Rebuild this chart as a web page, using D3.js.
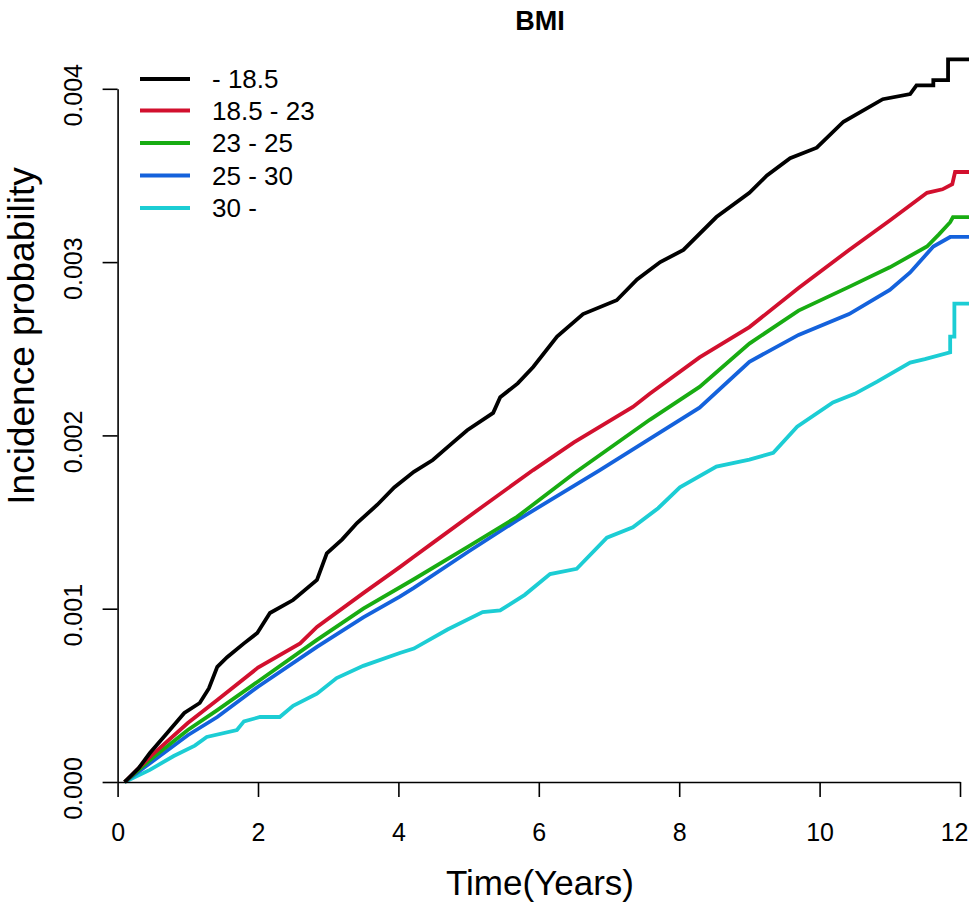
<!DOCTYPE html>
<html>
<head>
<meta charset="utf-8">
<script src="https://cdn.jsdelivr.net/npm/d3@7"></script>
<style>
  html, body { margin: 0; padding: 0; background: #fff; }
  svg { display: block; font-family: "Liberation Sans", Arial, sans-serif; }
</style>
</head>
<body>
<svg id="chart" width="969" height="905"></svg>
<script>
// ---- data ----
const seriesNames = ["- 18.5", "18.5 - 23", "23 - 25", "25 - 30", "30 -"];
const seriesColors = ["#000000", "#d2102e", "#18ac12", "#1462dc", "#1ccdd4"];
const xTicks = [0, 2, 4, 6, 8, 10, 12];
const yTicks = [0, 0.001, 0.002, 0.003, 0.004];
const yTickLabels = ["0.000", "0.001", "0.002", "0.003", "0.004"];

const bmiUnder185 = [
  [0.1,0],[0.3,0.00008],[0.46,0.000167],[0.7,0.00028],[0.95,0.000398],[1.17,0.000456],
  [1.3,0.00054],[1.42,0.000664],[1.56,0.00072],[1.8,0.0008],[1.99,0.00086],[2.17,0.000975],
  [2.5,0.00105],[2.84,0.001166],[2.98,0.00132],[3.2,0.0014],[3.41,0.001494],[3.7,0.0016],
  [3.94,0.0017],[4.22,0.00179],[4.49,0.001858],[4.75,0.00195],[4.98,0.00203],[5.35,0.00213],
  [5.45,0.00222],[5.7,0.0023],[5.92,0.002395],[6.26,0.00257],[6.63,0.0027],[7.11,0.00278],
  [7.4,0.0029],[7.73,0.003],[8.06,0.00307],[8.53,0.00326],[9.0,0.0034],[9.25,0.0035],
  [9.58,0.0036],[9.96,0.00366],[10.34,0.00381],[10.9,0.00394],[11.29,0.00397],[11.38,0.00402],
  [11.62,0.00402],[11.62,0.00405],[11.83,0.00405],[11.83,0.00417],[12.13,0.00417]
];
const bmi185to23 = [
  [0.1,0],[0.5,0.00016],[1.0,0.00034],[1.42,0.000473],[2.0,0.00066],[2.6,0.0008],
  [2.84,0.000895],[3.5,0.00109],[4.02,0.00124],[4.22,0.0013],[4.49,0.00138],[5.2,0.00159],
  [5.92,0.0018],[6.5,0.00196],[7.34,0.002164],[7.58,0.00224],[8.29,0.00245],[9.0,0.002625],
  [9.7,0.00285],[10.42,0.00307],[11.0,0.00324],[11.53,0.0034],[11.75,0.00342],[11.89,0.00345],
  [11.93,0.00352],[12.13,0.00352]
];
const bmi23to25 = [
  [0.1,0],[0.5,0.00014],[1.0,0.0003],[1.42,0.000415],[2.0,0.00058],[2.84,0.00082],
  [3.5,0.001],[4.22,0.00117],[5.0,0.00136],[5.69,0.00153],[6.5,0.00178],[7.58,0.00209],
  [8.29,0.00228],[9.0,0.00253],[9.7,0.00272],[10.42,0.002857],[11.0,0.00297],[11.53,0.00309],
  [11.7,0.00316],[11.86,0.00323],[11.9,0.00326],[12.13,0.00326]
];
const bmi25to30 = [
  [0.1,0],[0.5,0.00012],[1.0,0.00027],[1.42,0.000375],[2.0,0.00055],[2.84,0.00078],
  [3.5,0.00095],[4.02,0.00107],[4.22,0.00112],[5.0,0.00133],[5.69,0.00151],[6.87,0.0018],
  [7.58,0.00198],[8.29,0.00216],[9.0,0.002425],[9.7,0.00258],[10.42,0.0027],[11.0,0.00284],
  [11.29,0.00294],[11.62,0.00309],[11.86,0.003145],[12.13,0.003145]
];
const bmiOver30 = [
  [0.1,0],[0.46,0.00007],[0.8,0.00015],[1.1,0.00021],[1.27,0.00026],[1.7,0.0003],
  [1.8,0.00035],[2.03,0.000375],[2.31,0.000375],[2.5,0.00044],[2.84,0.00051],[3.12,0.0006],
  [3.5,0.00067],[4.02,0.000744],[4.22,0.00077],[4.7,0.00088],[5.2,0.00098],[5.45,0.00099],
  [5.8,0.00108],[6.16,0.0012],[6.54,0.00123],[6.97,0.00141],[7.34,0.00147],[7.7,0.00158],
  [8.01,0.0017],[8.53,0.00182],[9.0,0.00186],[9.34,0.0019],[9.68,0.00205],[10.19,0.00219],
  [10.5,0.00224],[10.82,0.00231],[11.29,0.00242],[11.5,0.00244],[11.86,0.00248],
  [11.86,0.00257],[11.92,0.00257],[11.92,0.00276],[12.13,0.00276]
];
const allSeries = [bmiUnder185, bmi185to23, bmi23to25, bmi25to30, bmiOver30];

// ---- layout ----
const svg = d3.select("#chart");
const x = d3.scaleLinear().domain([0, 12]).range([117.6, 960]);
const y = d3.scaleLinear().domain([0, 0.004]).range([782, 88.8]);

// title
svg.append("text")
  .attr("x", 540).attr("y", 30)
  .attr("text-anchor", "middle")
  .attr("font-size", 27).attr("font-weight", "bold")
  .text("BMI");

// lines
const line = d3.line().x(d => x(d[0])).y(d => y(d[1]));
svg.append("defs").append("clipPath").attr("id", "clip")
  .append("rect").attr("x", 0).attr("y", 40).attr("width", 969).attr("height", 760);
const gLines = svg.append("g").attr("clip-path", "url(#clip)");
allSeries.map((s, i) => ({s, i})).reverse().forEach(({s, i}) => {
  gLines.append("path")
    .datum(s)
    .attr("d", line)
    .attr("fill", "none")
    .attr("stroke", seriesColors[i])
    .attr("stroke-width", 3.8)
    .attr("stroke-linejoin", "miter")
    .attr("stroke-linecap", "butt");
});

// x axis
const xAxis = d3.axisBottom(x).tickValues(xTicks).tickSize(15).tickSizeOuter(0).tickPadding(26)
  .tickFormat(d3.format("d"));
const gx = svg.append("g").attr("transform", "translate(0,782)").call(xAxis);
gx.select(".domain").attr("stroke", "#000").attr("stroke-width", 1.6);
gx.selectAll(".tick line").attr("stroke", "#000").attr("stroke-width", 1.6);
gx.selectAll(".tick text").attr("font-size", 25).attr("fill", "#000")
  .attr("font-family", "Liberation Sans, Arial, sans-serif");
// keep the last label inside the picture edge
gx.selectAll(".tick text").filter(d => d === 12)
  .attr("text-anchor", "end").attr("x", 968 - x(12));

// y axis
const yAxis = d3.axisLeft(y).tickValues(yTicks).tickSize(15).tickSizeOuter(0)
  .tickFormat((d, i) => yTickLabels[i]);
const gy = svg.append("g").attr("transform", "translate(117.6,0)").call(yAxis);
gy.select(".domain").attr("stroke", "#000").attr("stroke-width", 1.6);
gy.selectAll(".tick line").attr("stroke", "#000").attr("stroke-width", 1.6);
gy.selectAll(".tick text")
  .attr("font-size", 25).attr("fill", "#000")
  .attr("font-family", "Liberation Sans, Arial, sans-serif")
  .attr("x", null).attr("dy", null)
  .attr("text-anchor", "middle")
  .attr("transform", "translate(-35.6,6) rotate(-90)");

// axis titles
svg.append("text")
  .attr("x", 540).attr("y", 895)
  .attr("text-anchor", "middle")
  .attr("font-size", 35)
  .text("Time(Years)");
svg.append("text")
  .attr("transform", "translate(34,336) rotate(-90)")
  .attr("text-anchor", "middle")
  .attr("font-size", 37)
  .text("Incidence probability");

// legend
const legendY = [79, 110.5, 143, 175.5, 208];
const gLeg = svg.append("g");
seriesNames.forEach((name, i) => {
  gLeg.append("line")
    .attr("x1", 140).attr("x2", 190)
    .attr("y1", legendY[i]).attr("y2", legendY[i])
    .attr("stroke", seriesColors[i]).attr("stroke-width", 3.8);
  gLeg.append("text")
    .attr("x", 212).attr("y", legendY[i])
    .attr("dy", "0.36em")
    .attr("font-size", 26)
    .text(name);
});
</script>
</body>
</html>
